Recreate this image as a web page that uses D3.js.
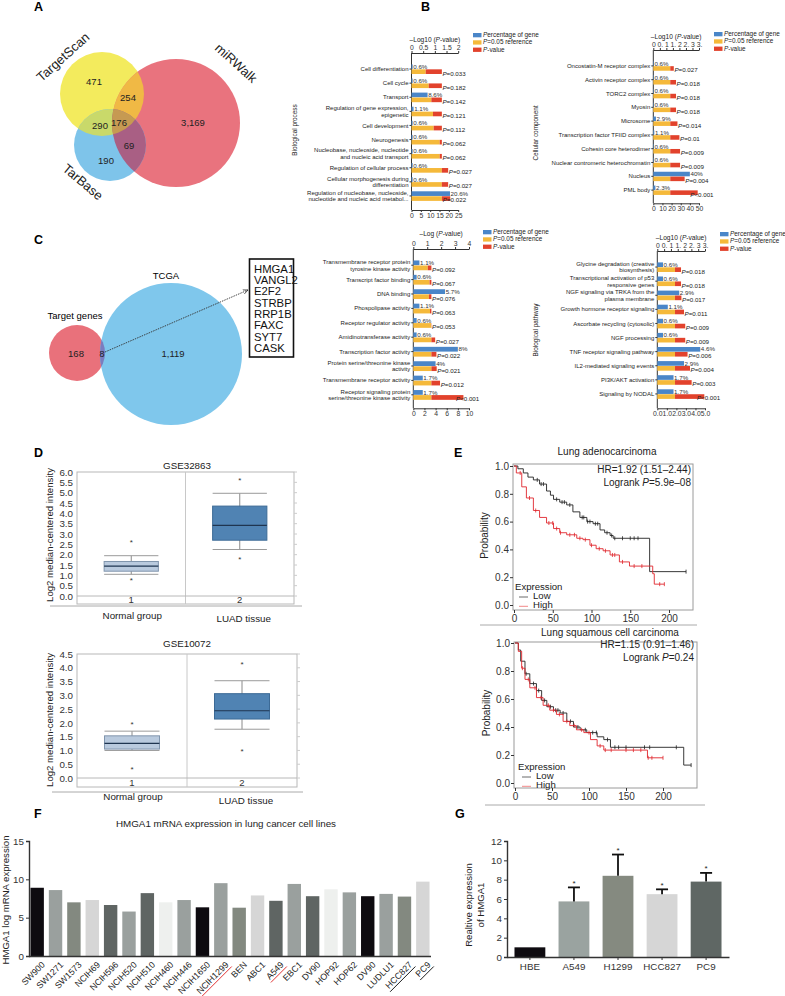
<!DOCTYPE html>
<html>
<head>
<meta charset="utf-8">
<script src="https://cdn.jsdelivr.net/npm/d3@7"></script>
<style>
  body { margin: 0; background: #fff; }
  svg { display: block; font-family: "Liberation Sans", Arial, sans-serif; }
</style>
</head>
<body>
<svg id="fig" width="785" height="996"></svg>
<script>
// ---------- data ----------
// A: venn of predicted targets
const vennASets = ["TargetScan", "miRWalk", "TarBase"];
const vennACounts = ["471", "254", "290", "176", "69", "190", "3,169"];
// C: venn with TCGA
const vennCSets = ["Target genes", "TCGA"];
const vennCCounts = ["168", "8", "1,119"];
const overlapGenes = ["HMGA1", "VANGL2", "E2F2", "STRBP", "RRP1B", "FAXC", "SYT7", "CASK"];

const goLegend = ["Percentage of gene", "P=0.05 reference", "P-value"];
const refLogP = 1.3; // -log10(0.05)

// B left: biological process
const bpCats = ["Cell differentiation", "Cell cycle", "Transport", "Regulation of gene expression,\nepigenetic",
  "Cell development", "Neurogenesis", "Nucleobase, nucleoside, nucleotide\nand nucleic acid transport",
  "Regulation of cellular process", "Cellular morphogenesis during\ndifferentiation",
  "Regulation of nucleobase, nucleoside,\nnucleotide and nucleic acid metabol..."];
const bpPct = [0.6, 0.6, 8.6, 1.1, 0.6, 0.6, 0.6, 0.6, 0.6, 20.6];
const bpPctLab = ["0.6%", "0.6%", "8.6%", "1.1%", "0.6%", "0.6%", "0.6%", "0.6%", "0.6%", "20.6%"];
const bpLogP = [0.61, 0.74, 0.85, 0.92, 0.95, 1.21, 1.21, 1.57, 1.57, 1.66];
const bpPLab = ["=0.033", "=0.182", "=0.142", "=0.121", "=0.112", "=0.062", "=0.062", "=0.027", "=0.027", "=0.022"];

// B right: cellular component
const ccCats = ["Oncostatin-M receptor complex", "Activin receptor complex", "TORC2 complex", "Myosin", "Microsome",
  "Transcription factor TFIID complex", "Cohesin core heterodimer", "Nuclear contromeric heterochromatin", "Nucleus", "PML body"];
const ccPct = [0.6, 0.6, 0.6, 0.6, 2.9, 1.1, 0.6, 0.6, 40, 2.3];
const ccPctLab = ["0.6%", "0.6%", "0.6%", "0.6%", "2.9%", "1.1%", "0.6%", "0.6%", "40%", "2.3%"];
const ccLogP = [1.57, 1.74, 1.74, 1.74, 1.85, 2.0, 2.05, 2.05, 2.4, 3.4];
const ccPLab = ["=0.027", "=0.018", "=0.018", "=0.018", "=0.014", "=0.01", "=0.009", "=0.009", "=0.004", "<0.001"];

// C middle: molecular function
const mfCats = ["Transmembrane receptor protein\ntyrosine kinase activity", "Transcript factor binding", "DNA binding",
  "Phospolipase activity", "Receptor regulator activity", "Amidinotransferase activity", "Transcription factor activity",
  "Protein serine/threonine kinase\nactivity", "Transmembrane receptor activity",
  "Receptor signaling protein\nserine/threonine kinase activity"];
const mfPct = [1.1, 0.6, 5.7, 1.1, 0.6, 0.6, 8, 4, 1.7, 1.7];
const mfPctLab = ["1.1%", "0.6%", "5.7%", "1.1%", "0.6%", "0.6%", "8%", "4%", "1.7%", "1.7%"];
const mfLogP = [1.04, 1.17, 1.12, 1.2, 1.28, 1.57, 1.66, 1.68, 1.92, 3.6];
const mfPLab = ["=0.092", "=0.067", "=0.076", "=0.063", "=0.053", "=0.027", "=0.022", "=0.021", "=0.012", "<0.001"];

// C right: biological pathway
const bwCats = ["Glycine degradation (creative\nbiosynthesis)", "Transcriptional activation of p53\nresponsive genes",
  "NGF signaling via TRKA from the\nplasma membrane", "Growth hormone receptor signaling", "Ascorbate recycling (cytosolic)",
  "NGF processing", "TNF receptor signaling pathway", "IL2-mediated signaling events", "PI3K/AKT activation", "Signaling by NODAL"];
const bwPct = [0.6, 0.6, 2.3, 1.1, 0.6, 0.6, 4.5, 2.8, 1.7, 1.7];
const bwPctLab = ["0.6%", "0.6%", "2.9%", "1.1%", "0.6%", "0.6%", "4.6%", "2.9%", "1.7%", "1.7%"];
const bwLogP = [1.74, 1.74, 1.77, 1.96, 2.05, 2.05, 2.22, 2.4, 2.52, 3.45];
const bwPLab = ["=0.018", "=0.018", "=0.017", "=0.011", "=0.009", "=0.009", "=0.006", "=0.004", "=0.003", "<0.001"];

const halfTickLabels = ["0", "0.", "1", "1.", "2", "2.", "3", "3."];

// D: box plots  [whisker low, q1, median, q3, whisker high]
const boxGroups = ["Normal group", "LUAD tissue"];
const gse32863Box = [[1.05, 1.2, 1.45, 1.67, 1.95], [2.25, 2.7, 3.42, 4.35, 4.97]];
const gse32863Out = [[0.8, 2.65], [1.8, 5.65]];
const gse10072Box = [[1.0, 1.05, 1.26, 1.53, 1.7], [1.77, 2.14, 2.44, 3.06, 3.53]];
const gse10072Out = [[0.36, 1.96], [1.0, 4.17]];

// E: Kaplan-Meier (months, survival)
const luadLowT = [0, 5, 12, 18, 25, 33, 42, 47, 51, 59, 68, 76, 85, 94, 102, 111, 117, 124, 128, 175, 222];
const luadLowS = [1.0, 0.98, 0.95, 0.92, 0.9, 0.87, 0.82, 0.79, 0.76, 0.74, 0.72, 0.67, 0.63, 0.6, 0.585, 0.54, 0.52, 0.5, 0.48, 0.24, 0.24];
const luadHighT = [0, 3, 10, 16, 25, 33, 42, 51, 59, 68, 81, 89, 98, 106, 115, 124, 136, 149, 179, 181, 194];
const luadHighS = [1.0, 0.95, 0.85, 0.77, 0.68, 0.63, 0.59, 0.55, 0.52, 0.505, 0.48, 0.47, 0.43, 0.405, 0.39, 0.36, 0.31, 0.28, 0.225, 0.15, 0.15];
const luadLowCens = [30, 35, 38, 55, 62, 65, 72, 88, 90, 95, 98, 105, 108, 120, 126, 130, 140, 150, 155, 160, 222];
const luadHighCens = [8, 20, 28, 45, 50, 55, 60, 72, 78, 85, 92, 100, 110, 118, 127, 130, 140, 155, 165, 188, 194];
const luscLowT = [0, 4.5, 7.7, 13.5, 20, 29, 36, 43, 52, 61, 70, 79, 88, 97, 111, 120, 129, 228, 238];
const luscLowS = [1.0, 0.95, 0.87, 0.78, 0.71, 0.66, 0.59, 0.545, 0.52, 0.5, 0.44, 0.4, 0.38, 0.36, 0.33, 0.31, 0.255, 0.128, 0.128];
const luscHighT = [0, 4.5, 9, 13.5, 20, 29, 38, 47, 56, 65, 74, 83, 93, 102, 111, 120, 179, 200];
const luscHighS = [1.0, 0.94, 0.82, 0.74, 0.68, 0.61, 0.555, 0.52, 0.49, 0.44, 0.41, 0.38, 0.36, 0.31, 0.265, 0.235, 0.18, 0.18];
const luscLowCens = [15, 25, 32, 40, 48, 55, 58, 65, 75, 85, 95, 105, 110, 125, 135, 140, 150, 175, 182, 218, 238];
const luscHighCens = [10, 18, 27, 35, 45, 52, 60, 70, 80, 90, 100, 115, 122, 130, 150, 160, 170, 180, 185, 200];

// F: cell lines
const cellLines = ["SW900", "SW1271", "SW1573", "NCIH69", "NCIH596", "NCIH520", "NCIH510", "NCIH460", "NCIH446", "NCIH1650",
  "NCIH1299", "BEN", "ABC1", "A549", "EBC1", "DV90", "HOP92", "HOP62", "DV90", "LUDLU1", "HCC827", "PC9"];
const cellExpr = [8.9, 8.6, 7.0, 7.3, 6.65, 5.8, 8.2, 7.0, 7.3, 6.35, 9.5, 6.3, 7.9, 7.2, 9.4, 7.8, 8.7, 8.3, 7.8, 8.1, 7.75, 9.7];
const cellShade = ["#0e0b10", "#9aa09e", "#838980", "#d6d6d6", "#5f6563", "#9aa09e", "#5f6563", "#eef0ee", "#9aa09e", "#0e0b10",
  "#9aa09e", "#838980", "#d6d6d6", "#5f6563", "#9aa09e", "#5f6563", "#eef0ee", "#9aa09e", "#0e0b10", "#9aa09e", "#838980", "#d6d6d6"];
const cellUnderline = ["", "", "", "", "", "", "", "", "", "", "#e02a2a", "", "", "#e02a2a", "", "", "", "", "", "", "#111", "#111"];

// G: qPCR
const qpcrCells = ["HBE", "A549", "H1299", "HCC827", "PC9"];
const qpcrMean = [1.0, 5.75, 8.4, 6.5, 7.8];
const qpcrErr = [0, 1.45, 2.2, 0.5, 0.9];
const qpcrShade = ["#0e0b10", "#9aa3a0", "#858a80", "#d6d6d6", "#5f6764"];

// ---------- drawing ----------
const svg = d3.select("#fig");
const FONT = '"Liberation Sans", Arial, sans-serif';

function letter(t, x, y) {
  svg.append("text").attr("x", x).attr("y", y).attr("font-size", 12.5).attr("font-weight", "bold").text(t);
}
letter("A", 34, 11); letter("B", 421, 11); letter("C", 34, 244);
letter("D", 34, 457); letter("E", 454, 457); letter("F", 34, 818); letter("G", 455, 818);

function styleAxis(a, size, col) {
  a.attr("font-family", FONT).attr("font-size", size);
  a.selectAll("text").attr("fill", col || "#222");
  a.selectAll("line,path").attr("stroke", col || "#222");
}

// ----- A venn -----
(function () {
  const c = [{ x: 102, y: 94, r: 42 }, { x: 176, y: 123, r: 64 }, { x: 110, y: 145, r: 36 }];
  const defs = svg.append("defs");
  ["vY", "vR", "vB"].forEach((id, i) => {
    defs.append("clipPath").attr("id", id).append("circle").attr("cx", c[i].x).attr("cy", c[i].y).attr("r", c[i].r);
  });
  const g = svg.append("g");
  const circ = (p, i, col) => p.append("circle").attr("cx", c[i].x).attr("cy", c[i].y).attr("r", c[i].r).attr("fill", col);
  circ(g, 0, "#f3eb5d"); circ(g, 1, "#e9737e"); circ(g, 2, "#7ec4ea");
  circ(g.append("g").attr("clip-path", "url(#vY)"), 1, "#f0b945");
  circ(g.append("g").attr("clip-path", "url(#vY)"), 2, "#c9d96a");
  circ(g.append("g").attr("clip-path", "url(#vR)"), 2, "#a95f84");
  circ(g.append("g").attr("clip-path", "url(#vY)").append("g").attr("clip-path", "url(#vR)"), 2, "#c69a52");
  const pos = [[94, 85], [128, 101], [100, 129], [119, 126], [129, 149], [106, 164], [193, 126]];
  g.selectAll("text.n").data(vennACounts).join("text").attr("class", "n")
    .attr("x", (d, i) => pos[i][0]).attr("y", (d, i) => pos[i][1])
    .attr("text-anchor", "middle").attr("font-size", 9.5).attr("fill", "#222").text(d => d);
  const lab = [[63, 57, -42], [236, 63, 42], [83, 182, 40]];
  g.selectAll("text.s").data(vennASets).join("text").attr("class", "s")
    .attr("transform", (d, i) => `translate(${lab[i][0]},${lab[i][1]}) rotate(${lab[i][2]})`)
    .attr("text-anchor", "middle").attr("dominant-baseline", "central").attr("font-size", 13).attr("fill", "#222").text(d => d);
})();

// ----- C venn -----
(function () {
  const c = [{ x: 77, y: 353, r: 28 }, { x: 171, y: 354, r: 71 }];
  svg.select("defs").append("clipPath").attr("id", "vT").append("circle").attr("cx", c[0].x).attr("cy", c[0].y).attr("r", c[0].r);
  const g = svg.append("g");
  g.append("circle").attr("cx", c[0].x).attr("cy", c[0].y).attr("r", c[0].r).attr("fill", "#e9717b");
  g.append("circle").attr("cx", c[1].x).attr("cy", c[1].y).attr("r", c[1].r).attr("fill", "#7fc7ec");
  g.append("g").attr("clip-path", "url(#vT)").append("circle")
    .attr("cx", c[1].x).attr("cy", c[1].y).attr("r", c[1].r).attr("fill", "#7a7dbf");
  g.append("text").attr("x", 75).attr("y", 319).attr("text-anchor", "middle").attr("font-size", 9.5).text(vennCSets[0]);
  g.append("text").attr("x", 166).attr("y", 279).attr("text-anchor", "middle").attr("font-size", 9.5).text(vennCSets[1]);
  const pos = [[76, 357], [102, 357], [173, 357]];
  g.selectAll("text.n").data(vennCCounts).join("text").attr("class", "n")
    .attr("x", (d, i) => pos[i][0]).attr("y", (d, i) => pos[i][1])
    .attr("text-anchor", "middle").attr("font-size", 9.5).attr("fill", "#222").text(d => d);
  svg.select("defs").append("marker").attr("id", "arr").attr("viewBox", "0 0 10 10").attr("refX", 9).attr("refY", 5)
    .attr("markerWidth", 6).attr("markerHeight", 6).attr("orient", "auto")
    .append("path").attr("d", "M0,1L9,5L0,9").attr("fill", "none").attr("stroke", "#333").attr("stroke-width", 1.4);
  g.append("line").attr("x1", 105).attr("y1", 352).attr("x2", 248).attr("y2", 290)
    .attr("stroke", "#333").attr("stroke-width", 0.9).attr("stroke-dasharray", "1.5,1").attr("marker-end", "url(#arr)");
  g.append("rect").attr("x", 249.5).attr("y", 259).attr("width", 44).attr("height", 98)
    .attr("fill", "#fff").attr("stroke", "#111").attr("stroke-width", 1.6);
  g.selectAll("text.gene").data(overlapGenes).join("text").attr("class", "gene")
    .attr("x", 254).attr("y", (d, i) => 272.5 + i * 11.35).attr("font-size", 11.3).attr("fill", "#111").text(d => d);
})();

// ----- GO bar charts -----
function goChart(o) {
  const g = svg.append("g");
  const xt = d3.scaleLinear().domain([0, o.topMax]).range([o.x0, o.x0 + o.w]);
  const xb = d3.scaleLinear().domain([0, o.botMax]).range([o.x0, o.x0 + o.w]);
  const y = d3.scaleBand().domain(d3.range(o.cats.length)).range(o.band);
  const bw = y.bandwidth();
  const ta = g.append("g").attr("transform", `translate(0,${o.yTop})`)
    .call(d3.axisTop(xt).tickValues(o.topTicks).tickFormat((d, i) => o.topLabels[i]).tickSize(2).tickPadding(1).tickSizeOuter(0));
  styleAxis(ta, 6.8, "#333");
  const ba = g.append("g").attr("transform", `translate(0,${o.yBot})`)
    .call(d3.axisBottom(xb).tickValues(o.botTicks).tickSize(2).tickPadding(1).tickSizeOuter(0));
  styleAxis(ba, 6.8, "#333");
  g.append("line").attr("x1", o.x0).attr("x2", o.x0).attr("y1", o.yTop).attr("y2", o.yBot).attr("stroke", "#333");
  const rows = g.selectAll("g.row").data(o.cats).join("g").attr("class", "row")
    .attr("transform", (d, i) => `translate(0,${y(i)})`);
  rows.append("line").attr("x1", o.x0 - 2).attr("x2", o.x0).attr("y1", bw * 0.5).attr("y2", bw * 0.5).attr("stroke", "#333");
  rows.append("text").attr("x", o.x0 - 3).attr("y", bw * 0.5).attr("text-anchor", "end").attr("font-size", 6)
    .attr("fill", "#222")
    .each(function (d) {
      const lines = d.split("\n");
      lines.forEach((l, k) => {
        d3.select(this).append("tspan").attr("x", o.x0 - 3)
          .attr("dy", k === 0 ? (0.35 - (lines.length - 1) * 0.55) + "em" : "1.1em").text(l);
      });
    });
  rows.append("rect").attr("x", o.x0).attr("y", bw * 0.17).attr("height", bw * 0.33)
    .attr("width", (d, i) => xb(o.pct[i]) - o.x0).attr("fill", "#4a86c8");
  rows.append("rect").attr("x", o.x0).attr("y", bw * 0.52).attr("height", bw * 0.33)
    .attr("width", (d, i) => xt(Math.min(o.logp[i], refLogP)) - o.x0).attr("fill", "#f5b93a");
  rows.append("rect").attr("x", (d, i) => xt(Math.min(o.logp[i], refLogP))).attr("y", bw * 0.52).attr("height", bw * 0.33)
    .attr("width", (d, i) => Math.abs(xt(o.logp[i]) - xt(refLogP))).attr("fill", "#e2422c");
  rows.append("text").attr("x", (d, i) => xb(o.pct[i]) + 0.6).attr("y", bw * 0.335 + 2.1)
    .attr("font-size", 6.2).attr("fill", "#333").text((d, i) => o.pctLab[i]);
  const maxP = d3.max(o.logp);
  const pl = rows.append("text")
    .attr("x", (d, i) => Math.max(xt(o.logp[i]), xt(refLogP)) + 0.6 - (o.logp[i] === maxP ? 8 : 0))
    .attr("y", bw * 0.85 + 1.6).attr("font-size", 6.2).attr("fill", "#222");
  pl.append("tspan").attr("font-style", "italic").text("P");
  pl.append("tspan").text((d, i) => o.pLab[i]);
  // title
  const t = g.append("text").attr("x", o.x0 + o.w / 2).attr("y", o.titleY).attr("text-anchor", "middle")
    .attr("font-size", 6.6).attr("fill", "#222");
  t.append("tspan").text(o.title + " (");
  t.append("tspan").attr("font-style", "italic").text("P");
  t.append("tspan").text("-value)");
  // legend
  const lg = g.append("g").attr("transform", `translate(${o.legX},${o.legY})`);
  const cols = ["#4a86c8", "#f5b93a", "#e2422c"];
  goLegend.forEach((l, k) => {
    lg.append("rect").attr("x", 0).attr("y", k * 7.3 - 2).attr("width", 8.5).attr("height", 4.3).attr("fill", cols[k]);
    const tx = lg.append("text").attr("x", 10).attr("y", k * 7.3 + 2).attr("font-size", 6.4).attr("fill", "#222");
    if (l.startsWith("P")) { tx.append("tspan").attr("font-style", "italic").text("P"); tx.append("tspan").text(l.slice(1)); }
    else tx.text(l);
  });
  if (o.side) {
    g.append("text").attr("transform", `translate(${o.side[1]},${o.side[2]}) rotate(-90)`)
      .attr("text-anchor", "middle").attr("font-size", 6.4).attr("fill", "#222").text(o.side[0]);
  }
}

goChart({ cats: bpCats, pct: bpPct, pctLab: bpPctLab, logp: bpLogP, pLab: bpPLab,
  x0: 411.5, w: 46.7, yTop: 53, yBot: 210, band: [62, 203], topMax: 2, botMax: 25,
  topTicks: [0, 0.5, 1, 1.5, 2], topLabels: ["0", "0.5", "1", "1.5", "2"], botTicks: [0, 5, 10, 15, 20, 25],
  title: "\u2013Log10", titleY: 42, legX: 473, legY: 35, side: ["Biological process", 297, 130] });
goChart({ cats: ccCats, pct: ccPct, pctLab: ccPctLab, logp: ccLogP, pLab: ccPLab,
  x0: 653.3, w: 45.7, yTop: 50, yBot: 203.3, band: [59, 197], topMax: 3.5, botMax: 50,
  topTicks: d3.range(0, 3.6, 0.5), topLabels: halfTickLabels, botTicks: [0, 10, 20, 30, 40, 50],
  title: "\u2013Log10", titleY: 38.5, legX: 714, legY: 34, side: ["Cellular component", 538, 133] });
goChart({ cats: mfCats, pct: mfPct, pctLab: mfPctLab, logp: mfLogP, pLab: mfPLab,
  x0: 413.3, w: 55.7, yTop: 249, yBot: 408.3, band: [258, 402], topMax: 4, botMax: 10,
  topTicks: [0, 1, 2, 3, 4], topLabels: ["0", "1", "2", "3", "4"], botTicks: [0, 2, 4, 6, 8, 10],
  title: "\u2013Log", titleY: 235.5, legX: 483, legY: 232, side: null });
goChart({ cats: bwCats, pct: bwPct, pctLab: bwPctLab, logp: bwLogP, pLab: bwPLab,
  x0: 657.3, w: 47.7, yTop: 251, yBot: 408.3, band: [260, 401], topMax: 3.5, botMax: 5,
  topTicks: d3.range(0, 3.6, 0.5), topLabels: halfTickLabels, botTicks: [0, 1, 2, 3, 4, 5],
  title: "\u2013Log10", titleY: 239.5, legX: 720, legY: 234, side: ["Biological pathway", 538, 330] });

// ----- D box plots -----
function boxPanel(o) {
  const g = svg.append("g");
  const y = d3.scaleLinear().domain([0, o.max]).range([o.zeroY, o.top]);
  const x = d3.scaleBand().domain(boxGroups).range([o.x0, o.x1]);
  g.append("rect").attr("x", o.x0).attr("y", o.top).attr("width", o.x1 - o.x0).attr("height", o.bot - o.top)
    .attr("fill", "none").attr("stroke", "#b8b8b8");
  g.append("line").attr("x1", x(boxGroups[1])).attr("x2", x(boxGroups[1])).attr("y1", o.top).attr("y2", o.bot).attr("stroke", "#c8c8c8");
  g.append("line").attr("x1", o.x0).attr("x2", o.x1).attr("y1", y(0)).attr("y2", y(0)).attr("stroke", "#b8b8b8");
  const ax = g.append("g").attr("transform", `translate(${o.x0},0)`)
    .call(d3.axisLeft(y).tickValues(d3.range(0, o.max + 0.01, 0.5)).tickFormat(d3.format(".1f")).tickSize(0).tickPadding(4));
  ax.select(".domain").remove();
  styleAxis(ax, 9.8, "#333");
  g.selectAll("line.rt").data(d3.range(0, o.max + 0.01, 0.5)).join("line").attr("class", "rt")
    .attr("x1", o.x1).attr("x2", o.x1 + 3).attr("y1", d => y(d)).attr("y2", d => y(d)).attr("stroke", "#ccc");
  const bw = x.bandwidth() * 0.5;
  boxGroups.forEach((grp, i) => {
    const cx = x(grp) + x.bandwidth() / 2;
    const s = o.stats[i];
    const fill = i === 0 ? "#b9cade" : "#5083b3";
    const stroke = i === 0 ? "#8095ad" : "#3c6a96";
    g.append("line").attr("x1", cx).attr("x2", cx).attr("y1", y(s[0])).attr("y2", y(s[4])).attr("stroke", "#8a8a8a");
    [s[0], s[4]].forEach(v => g.append("line").attr("x1", cx - bw / 2).attr("x2", cx + bw / 2)
      .attr("y1", y(v)).attr("y2", y(v)).attr("stroke", "#9a9a9a"));
    g.append("rect").attr("x", cx - bw / 2).attr("y", y(s[3])).attr("width", bw).attr("height", y(s[1]) - y(s[3]))
      .attr("fill", fill).attr("stroke", stroke);
    g.append("line").attr("x1", cx - bw / 2).attr("x2", cx + bw / 2).attr("y1", y(s[2])).attr("y2", y(s[2]))
      .attr("stroke", "#1f3550").attr("stroke-width", 1.2);
    o.outs[i].forEach(v => g.append("text").attr("x", cx).attr("y", y(v) + 3.5).attr("text-anchor", "middle")
      .attr("font-size", 8).attr("fill", "#333").text("*"));
    g.append("text").attr("x", cx).attr("y", o.bot - 1.5).attr("text-anchor", "middle").attr("font-size", 9.5)
      .attr("fill", "#333").text(i + 1);
    g.append("text").attr("x", cx + (i === 0 ? 1 : 4)).attr("y", o.labY[i]).attr("text-anchor", "middle")
      .attr("font-size", 9.8).attr("fill", "#222").text(grp);
  });
  g.append("line").attr("x1", o.lineX[0]).attr("x2", o.lineX[1]).attr("y1", o.lineY).attr("y2", o.lineY)
    .attr("stroke", "#aaa");
  g.append("text").attr("x", 187).attr("y", o.titleY).attr("text-anchor", "middle").attr("font-size", 9.8)
    .attr("fill", "#222").text(o.title);
  g.append("text").attr("transform", `translate(53,${o.ylabY}) rotate(-90)`).attr("text-anchor", "middle")
    .attr("font-size", 9.6).attr("fill", "#222").text("Log2 median-centered intensity");
}
boxPanel({ title: "GSE32863", titleY: 468.5, stats: gse32863Box, outs: gse32863Out, max: 6,
  x0: 77, x1: 294, top: 472, zeroY: 596, bot: 604, lineY: 606, lineX: [50, 302], labY: [619, 621.5], ylabY: 535 });
boxPanel({ title: "GSE10072", titleY: 646.5, stats: gse10072Box, outs: gse10072Out, max: 4.5,
  x0: 77, x1: 297, top: 654, zeroY: 778, bot: 787, lineY: 792, lineX: [52, 303], labY: [800, 804], ylabY: 720 });

// ----- E Kaplan-Meier -----
function kmPanel(o) {
  const g = svg.append("g");
  const x = d3.scaleLinear().domain([0, 200]).range([o.xz, o.x200]);
  const y = d3.scaleLinear().domain([0, 1]).range([o.y0, o.y1]);
  g.append("rect").attr("x", o.box[0]).attr("y", o.box[1]).attr("width", o.box[2] - o.box[0]).attr("height", o.box[3] - o.box[1])
    .attr("fill", "none").attr("stroke", "#9a9a9a");
  const ay = g.append("g").attr("transform", `translate(${o.box[0]},0)`)
    .call(d3.axisLeft(y).tickValues([0, 0.2, 0.4, 0.6, 0.8, 1]).tickFormat(d3.format(".1f")).tickSize(3).tickPadding(1));
  ay.select(".domain").remove();
  styleAxis(ay, 10, "#333");
  const ax = g.append("g").attr("transform", `translate(0,${o.box[3]})`)
    .call(d3.axisBottom(x).tickValues([0, 50, 100, 150, 200]).tickSize(3).tickPadding(2));
  ax.select(".domain").remove();
  styleAxis(ax, 10, "#333");
  const line = d3.line().x(d => x(d[0])).y(d => y(d[1])).curve(d3.curveStepAfter);
  const step = (T, S, t) => S[Math.max(0, d3.bisectRight(T, t) - 1)];
  [[o.lowT, o.lowS, o.lowC, "#222"], [o.highT, o.highS, o.highC, "#e0262c"]].forEach(([T, S, C, col]) => {
    g.append("path").attr("d", line(T.map((t, i) => [t, S[i]]))).attr("fill", "none").attr("stroke", col).attr("stroke-width", 0.9);
    g.selectAll(null).data(C).join("line").attr("x1", d => x(d)).attr("x2", d => x(d))
      .attr("y1", d => y(step(T, S, d)) - 2).attr("y2", d => y(step(T, S, d)) + 2).attr("stroke", col).attr("stroke-width", 0.8);
  });
  g.append("text").attr("x", o.titleX).attr("y", o.titleY).attr("text-anchor", "middle").attr("font-size", 10).attr("fill", "#222").text(o.title);
  g.append("text").attr("x", o.hrX).attr("y", o.hrY).attr("text-anchor", "end").attr("font-size", 10).attr("fill", "#222").text(o.hr);
  const lr = g.append("text").attr("x", o.hrX).attr("y", o.hrY + 13).attr("text-anchor", "end").attr("font-size", 10).attr("fill", "#222");
  lr.append("tspan").text("Logrank ");
  lr.append("tspan").attr("font-style", "italic").text("P");
  lr.append("tspan").text(o.lr);
  g.append("text").attr("x", o.legX).attr("y", o.legY).attr("font-size", 9.6).attr("fill", "#222").text("Expression");
  [["Low", "#444"], ["High", "#ef6a6a"]].forEach(([l, c], k) => {
    g.append("line").attr("x1", o.legX + 4).attr("x2", o.legX + 13).attr("y1", o.legY + 7.5 + k * 9.3).attr("y2", o.legY + 7.5 + k * 9.3)
      .attr("stroke", c).attr("stroke-width", 0.8);
    g.append("text").attr("x", o.legX + 18).attr("y", o.legY + 9.2 + k * 9.3).attr("font-size", 9.6).attr("fill", "#222").text(l);
  });
  g.append("text").attr("transform", `translate(${o.ylabX},${(o.y0 + o.y1) / 2}) rotate(-90)`).attr("text-anchor", "middle")
    .attr("font-size", 10).attr("fill", "#222").text("Probability");
  g.append("line").attr("x1", o.lineX[0]).attr("x2", o.lineX[1]).attr("y1", o.lineY).attr("y2", o.lineY).attr("stroke", "#aaa");
}
kmPanel({ title: "Lung adenocarcinoma", titleX: 607, titleY: 455, hr: "HR=1.92 (1.51\u20132.44)", lr: "=5.9e\u201308",
  hrX: 691, hrY: 472.5, box: [513, 464, 693, 610], xz: 514, x200: 669, y0: 605, y1: 466,
  lowT: luadLowT, lowS: luadLowS, lowC: luadLowCens, highT: luadHighT, highS: luadHighS, highC: luadHighCens,
  legX: 515, legY: 589.5, ylabX: 488, lineY: 625, lineX: [480, 697] });
kmPanel({ title: "Lung squamous cell carcinoma", titleX: 610, titleY: 635.5, hr: "HR=1.15 (0.91\u20131.46)", lr: "=0.24",
  hrX: 694, hrY: 647.5, box: [514, 642, 697, 788], xz: 515, x200: 663, y0: 783, y1: 643,
  lowT: luscLowT, lowS: luscLowS, lowC: luscLowCens, highT: luscHighT, highS: luscHighS, highC: luscHighCens,
  legX: 518, legY: 769.5, ylabX: 490, lineY: 805, lineX: [485, 705] });

// ----- F cell-line bars -----
(function () {
  const g = svg.append("g");
  const x = d3.scaleBand().domain(d3.range(cellLines.length)).range([29, 431]).paddingInner(0.27).paddingOuter(0.08);
  const y = d3.scaleLinear().domain([0, 15]).range([956, 841]);
  g.selectAll("rect").data(cellExpr).join("rect").attr("x", (d, i) => x(i)).attr("width", x.bandwidth())
    .attr("y", d => y(d)).attr("height", d => y(0) - y(d)).attr("fill", (d, i) => cellShade[i]);
  const ay = g.append("g").attr("transform", "translate(29,0)").call(d3.axisLeft(y).tickValues([0, 5, 10, 15]).tickSize(3).tickPadding(2));
  styleAxis(ay, 9.8, "#333");
  ay.select(".domain").attr("stroke-width", 1.4);
  g.append("line").attr("x1", 29).attr("x2", 431).attr("y1", 956.5).attr("y2", 956.5).attr("stroke", "#333").attr("stroke-width", 1.4);
  const labs = g.selectAll("g.xl").data(cellLines).join("g").attr("class", "xl")
    .attr("transform", (d, i) => `translate(${x(i) + x.bandwidth() / 2 + 4},961) rotate(-45)`);
  labs.append("text").attr("text-anchor", "end").attr("dy", "0.7em").attr("font-size", 8.8).attr("fill", "#222").text(d => d);
  labs.each(function (d, i) {
    if (!cellUnderline[i]) return;
    const len = d3.select(this).select("text").node().getComputedTextLength();
    d3.select(this).append("line").attr("x1", -len - 1).attr("x2", 1).attr("y1", 8.8).attr("y2", 8.8)
      .attr("stroke", cellUnderline[i]).attr("stroke-width", 0.9);
  });
  g.append("text").attr("x", 226).attr("y", 827).attr("text-anchor", "middle").attr("font-size", 9.8).attr("fill", "#222")
    .text("HMGA1 mRNA expression in lung cancer cell lines");
  g.append("text").attr("transform", "translate(9,900) rotate(-90)").attr("text-anchor", "middle").attr("font-size", 9.6)
    .attr("fill", "#222").text("HMGA1 log mRNA expression");
})();

// ----- G qPCR bars -----
(function () {
  const g = svg.append("g");
  const x = d3.scaleBand().domain(qpcrCells).range([507, 729]).paddingInner(0.3).paddingOuter(0.17);
  const y = d3.scaleLinear().domain([0, 12]).range([957, 841]);
  g.selectAll("rect").data(qpcrMean).join("rect").attr("x", (d, i) => x(qpcrCells[i])).attr("width", x.bandwidth())
    .attr("y", d => y(d)).attr("height", d => y(0) - y(d)).attr("fill", (d, i) => qpcrShade[i]);
  qpcrCells.forEach((c, i) => {
    if (!qpcrErr[i]) return;
    const cx = x(c) + x.bandwidth() / 2, top = y(qpcrMean[i] + qpcrErr[i]);
    g.append("line").attr("x1", cx).attr("x2", cx).attr("y1", y(qpcrMean[i])).attr("y2", top).attr("stroke", "#111").attr("stroke-width", 1.8);
    g.append("line").attr("x1", cx - 6).attr("x2", cx + 6).attr("y1", top).attr("y2", top).attr("stroke", "#111").attr("stroke-width", 1.8);
    g.append("text").attr("x", cx).attr("y", top - 1.5).attr("text-anchor", "middle").attr("font-size", 8).attr("fill", "#222").text("*");
  });
  const ay = g.append("g").attr("transform", "translate(507,0)").call(d3.axisLeft(y).tickValues(d3.range(0, 13, 2)).tickSize(3).tickPadding(2));
  styleAxis(ay, 9.8, "#333");
  ay.select(".domain").attr("stroke-width", 1.4);
  const ax = g.append("g").attr("transform", "translate(0,957)").call(d3.axisBottom(x).tickSize(3).tickPadding(3).tickSizeOuter(0));
  styleAxis(ax, 9.8, "#333");
  ax.select(".domain").attr("stroke-width", 1.4);
  g.append("text").attr("transform", "translate(472,905) rotate(-90)").attr("text-anchor", "middle").attr("font-size", 9.6)
    .attr("fill", "#222").text("Realtive expression");
  g.append("text").attr("transform", "translate(484,905) rotate(-90)").attr("text-anchor", "middle").attr("font-size", 9.6)
    .attr("fill", "#222").text("of HMGA1");
})();
</script>
</body>
</html>
